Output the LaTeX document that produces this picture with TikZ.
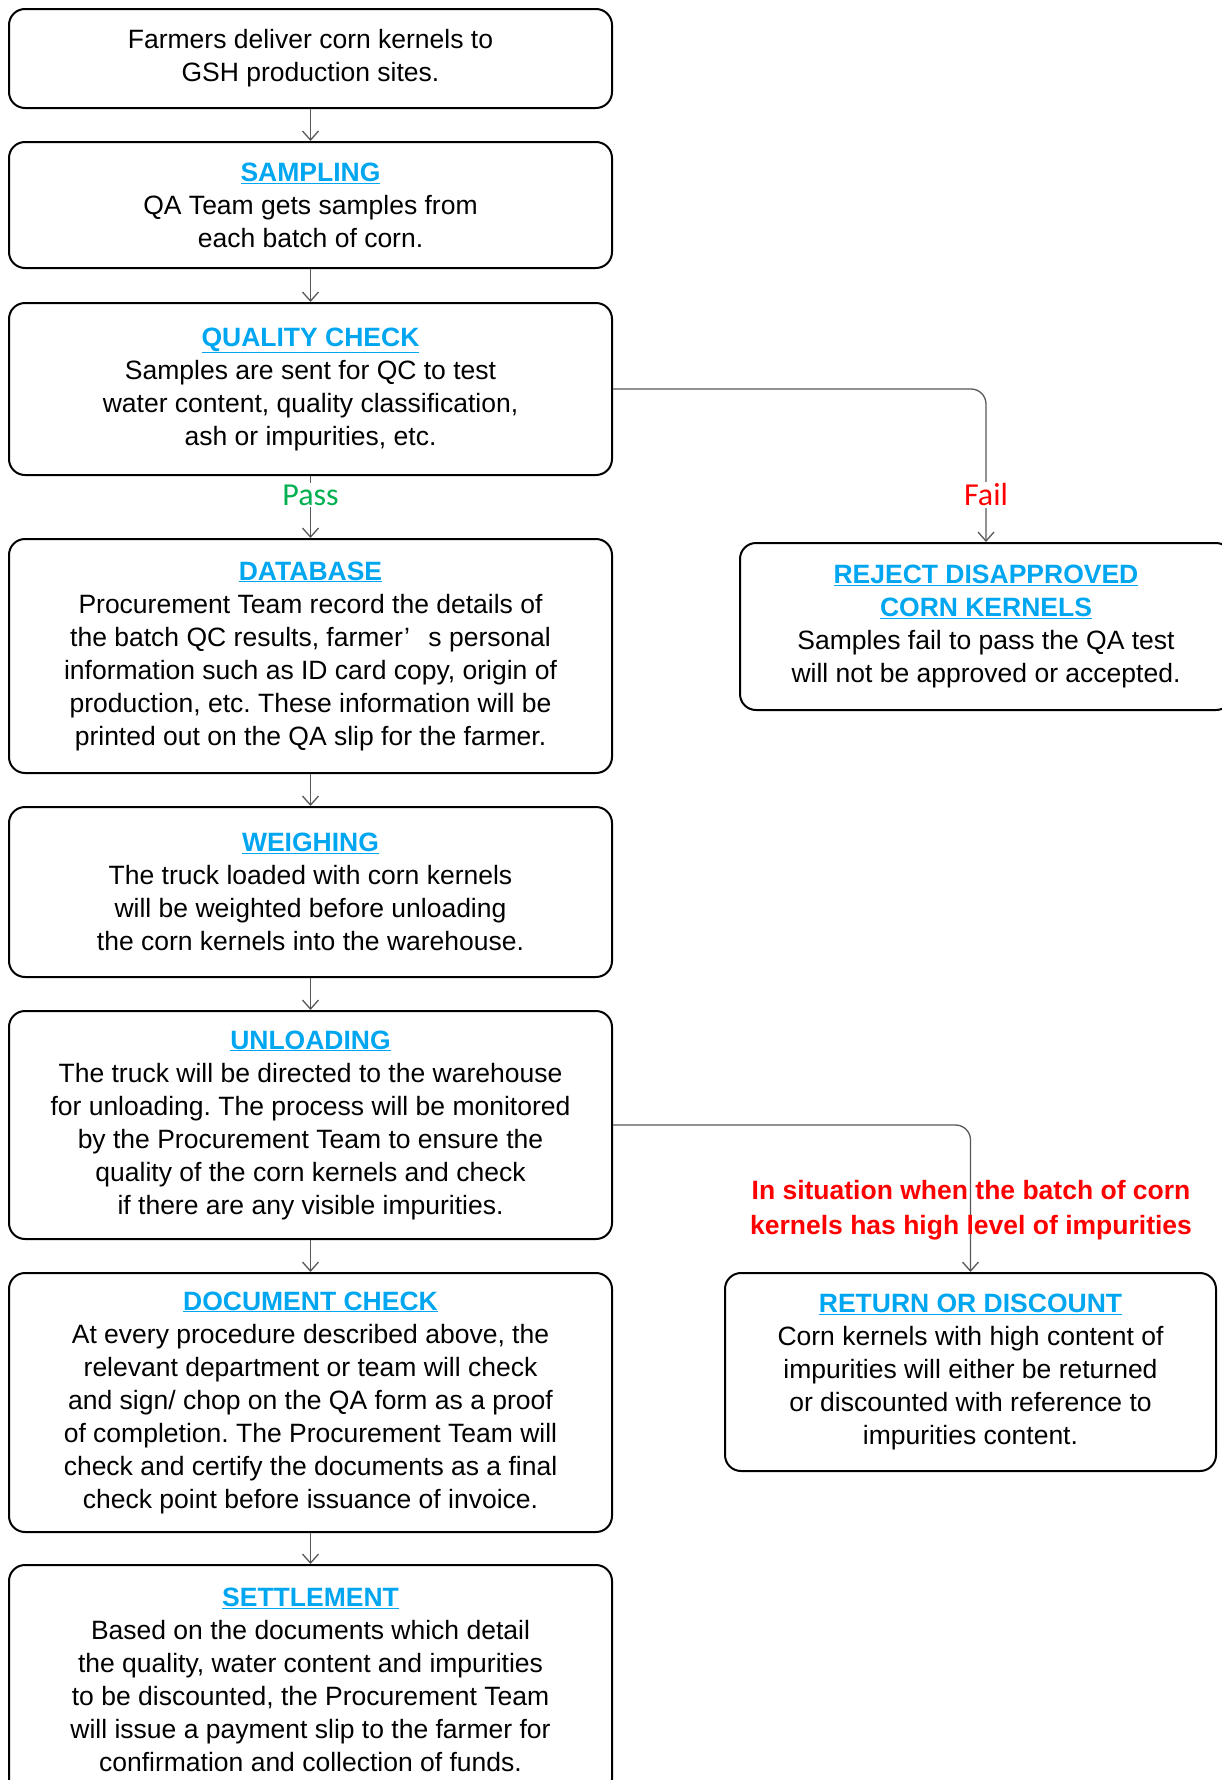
\documentclass[tikz,border=0pt]{standalone}
\usepackage{fontspec}
\setmainfont{Liberation Sans}
\newfontfamily\calibrifont{Carlito}
\usetikzlibrary{arrows.meta}
\definecolor{ttl}{RGB}{0,166,240}
\definecolor{passgreen}{RGB}{0,176,80}
\definecolor{failred}{RGB}{255,0,0}
\newcommand\ttlx[1]{{\bfseries\color{ttl}\underline{#1}}}
\frenchspacing
\tikzset{
  box/.style={draw=black, line width=2pt, rounded corners=16pt, fill=white,
    align=center, font=\fontsize{26.5}{33}\selectfont, inner sep=0pt},
  leftbox/.style={box, minimum width=603pt},
  conn/.style={draw=black!65, line width=1.3pt, rounded corners=15pt,
    -{Straight Barb[length=9pt,width=16pt]}},
  lbl/.style={font=\calibrifont\fontsize{32}{36}\selectfont, fill=white, inner sep=2pt},
}
\begin{document}
\begin{tikzpicture}[x=1pt,y=-1pt]
\useasboundingbox (0,0) rectangle (1222,1780);
\fill[white] (0,0) rectangle (1222,1780);

\node[leftbox, minimum height=99pt] (b1) at (310.5,58.5)
  {Farmers deliver corn kernels to\\GSH production sites.};
\node[leftbox, minimum height=126pt] (b2) at (310.5,205)
  {\ttlx{SAMPLING}\\QA Team gets samples from\\each batch of corn.};
\node[leftbox, minimum height=172pt] (b3) at (310.5,389)
  {\ttlx{QUALITY CHECK}\\Samples are sent for QC to test\\water content, quality classification,\\ash or impurities, etc.};
\node[leftbox, minimum height=234pt] (b4) at (310.5,656)
  {\ttlx{DATABASE}\\Procurement Team record the details of\\the batch QC results, farmer’\hspace{0.7em}s personal\\information such as ID card copy, origin of\\production, etc. These information will be\\printed out on the QA slip for the farmer.};
\node[leftbox, minimum height=170pt] (b5) at (310.5,892)
  {\ttlx{WEIGHING}\\The truck loaded with corn kernels\\will be weighted before unloading\\the corn kernels into the warehouse.};
\node[leftbox, minimum height=228pt] (b6) at (310.5,1125)
  {\ttlx{UNLOADING}\\The truck will be directed to the warehouse\\for unloading. The process will be monitored\\by the Procurement Team to ensure the\\quality of the corn kernels and check\\if there are any visible impurities.};
\node[leftbox, minimum height=259pt] (b7) at (310.5,1402.5)
  {\ttlx{DOCUMENT CHECK}\\At every procedure described above, the\\relevant department or team will check\\and sign/ chop on the QA form as a proof\\of completion. The Procurement Team will\\check and certify the documents as a final\\check point before issuance of invoice.};
\node[leftbox, minimum height=230pt] (b8) at (310.5,1680)
  {\ttlx{SETTLEMENT}\\Based on the documents which detail\\the quality, water content and impurities\\to be discounted, the Procurement Team\\will issue a payment slip to the farmer for\\confirmation and collection of funds.};

\node[box, minimum width=492pt, minimum height=167pt] (rj) at (986,626.5)
  {\ttlx{REJECT DISAPPROVED}\\\ttlx{CORN KERNELS}\\Samples fail to pass the QA test\\will not be approved or accepted.};
\node[box, minimum width=491pt, minimum height=198pt] (rt) at (970.5,1372)
  {\ttlx{RETURN OR DISCOUNT}\\Corn kernels with high content of\\impurities will either be returned\\or discounted with reference to\\impurities content.};

\draw[conn] (b1.south) -- (b2.north);
\draw[conn] (b2.south) -- (b3.north);
\draw[conn] (b3.south) -- (b4.north);
\draw[conn] (b4.south) -- (b5.north);
\draw[conn] (b5.south) -- (b6.north);
\draw[conn] (b6.south) -- (b7.north);
\draw[conn] (b7.south) -- (b8.north);
\draw[conn] (b3.east) -| (rj.north);
\draw[conn] (b6.east) -| (rt.north);

\node[lbl, text=passgreen] (pass) at (310.5,495) {Pass};
\node[lbl, text=failred] (fail) at (986,495) {Fail};
\node[align=center, text=failred, font=\bfseries\fontsize{26.5}{35}\selectfont, inner sep=0pt] (cond) at (971,1210)
  {In situation when the batch of corn\\kernels has high level of impurities};
\end{tikzpicture}
\end{document}
